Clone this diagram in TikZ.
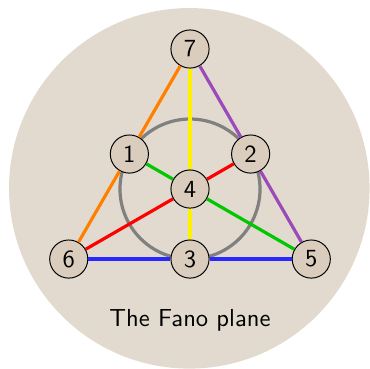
\documentclass[tikz,border=0pt]{standalone}
\usepackage{tikz}

\definecolor{planebg}{RGB}{226,218,206}
\definecolor{pointbg}{RGB}{218,205,190}
\definecolor{lineviolet}{RGB}{155,75,185}
\definecolor{linegreen}{RGB}{0,200,0}
\definecolor{lineblue}{RGB}{40,40,255}

\tikzset{
  point/.style={circle, draw=black, fill=pointbg, font=\sffamily, minimum size=15.5pt, inner sep=0pt},
  fanoline/.style={line width=1.3pt}
}

\begin{document}
\begin{tikzpicture}
        \useasboundingbox (-2.714,-2.557) rectangle (2.571,2.7);
        \fill[planebg] (-0.01,0.01) circle (2.575);

        \coordinate (c) at (0,0);
        \draw[gray, fanoline] (c) circle (1);

        % points
        \node[point] (p7) at (90:2) {7};
        \node[point] (p1) at (150:1) {1};
        \node[point] (p2) at (30:1) {2};
        \node[point] (p4) at (0,0) {4};
        \node[point] (p3) at (270:1) {3};
        \node[point] (p6) at (210:2) {6};
        \node[point] (p5) at (330:2) {5};

        % lines
        \draw[orange, fanoline] (p7) -- (p1) -- (p6);
        \draw[lineviolet, fanoline] (p7) -- (p2) -- (p5);
        \draw[yellow, fanoline] (p7) -- (p4) -- (p3);
        \draw[linegreen, fanoline] (p1) -- (p4) -- (p5);
        \draw[red, fanoline] (p6) -- (p4) -- (p2);
        \draw[lineblue, fanoline] (p6) -- (p3) -- (p5);

        \node[font=\sffamily] (title) at (0,-1.87) {The Fano plane};
    \end{tikzpicture}
\end{document}
